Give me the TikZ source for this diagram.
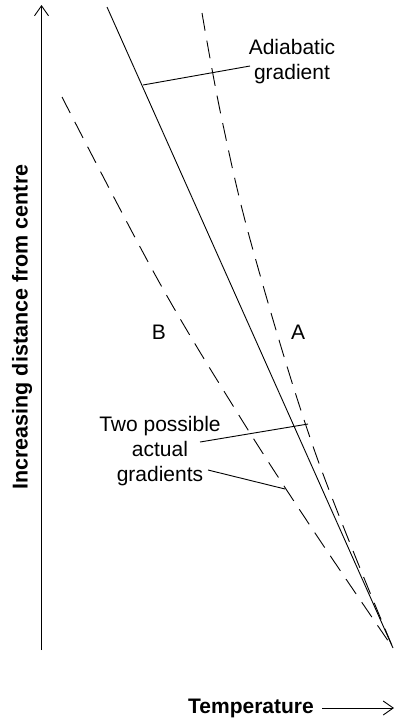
\documentclass[tikz,border=0pt]{standalone}
\usepackage{fontspec}
\setmainfont{Liberation Sans}
\usetikzlibrary{arrows.meta}
\begin{document}
\begin{tikzpicture}[x=1pt,y=-1pt,
  every node/.style={inner sep=0pt,font=\fontsize{21}{25}\selectfont},
  ln/.style={line width=0.9pt,black},
  dsh/.style={ln,dash pattern=on 18pt off 10pt},
  barb/.style={-{Straight Barb[length=10pt,width=14pt,line width=0.9pt]}}]
\useasboundingbox (0,0) rectangle (395,720);
% axes
\coordinate (o) at (41.5,650);
\coordinate (ytop) at (41.5,5);
\draw[ln,barb] (o) -- (ytop);
\node[rotate=90,font=\fontsize{21.5}{25}\selectfont\bfseries] (ylab) at (22,327) {Increasing distance from centre};
\node[font=\fontsize{21}{25}\selectfont\bfseries] (xlab) at (251,708) {Temperature};
\coordinate (xa) at (322,708);
\coordinate (xb) at (394,708);
\draw[ln,barb] (xa) -- (xb);
% convergence point
\coordinate (c) at (393,648);
% adiabatic gradient (solid)
\coordinate (s0) at (107,7);
\draw[ln] (s0) -- (c);
% curve A
\draw[dsh] plot[smooth,tension=0.6] coordinates {(202,13) (222,120) (253,250) (315,452) (393,648)};
% curve B
\draw[dsh] plot[smooth,tension=0.6] coordinates {(62,97) (158,280) (240,417) (313,530) (393,648)};
% labels
\node (lA) at (298,332) {A};
\node (lB) at (159,332) {B};
\node[align=center] (adia) at (292,62) {Adiabatic\\gradient};
\coordinate (p1) at (143,85);
\coordinate (q1) at (250,66);
\draw[ln] (p1) -- (q1);
\node[align=center] (two) at (160,451) {Two possible\\actual\\gradients};
\coordinate (t1) at (200,442);
\coordinate (onA) at (308,424);
\coordinate (t2) at (208,470);
\coordinate (onB) at (285,489);
\draw[ln] (t1) -- (onA);
\draw[ln] (t2) -- (onB);
\end{tikzpicture}
\end{document}
